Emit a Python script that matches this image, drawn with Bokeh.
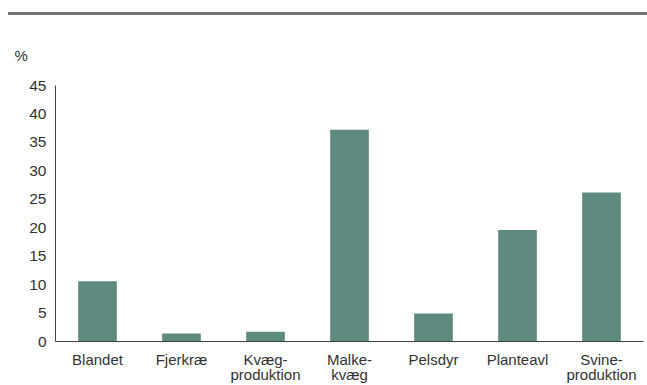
from bokeh.plotting import figure
from bokeh.models import ColumnDataSource, Div, FactorRange
from bokeh.layouts import column
from bokeh.embed import file_html
from bokeh.resources import INLINE

categories = ["Blandet", "Fjerkræ", "Kvæg-\nproduktion", "Malke-\nkvæg", "Pelsdyr", "Planteavl", "Svine-\nproduktion"]
values = [10.6, 1.4, 1.7, 37.2, 4.9, 19.6, 26.2]
y_ticks = [0, 5, 10, 15, 20, 25, 30, 35, 40, 45]

FONT = "Liberation Sans"
TXT = "#333333"
BAR = "#5f8a7f"

src = ColumnDataSource(dict(cat=categories, val=values))

p = figure(
    x_range=FactorRange(*categories, range_padding=0),
    y_range=(0, 45),
    width=647, height=368,
    output_backend="svg", toolbar_location=None,
    min_border_left=55, min_border_right=4, min_border_top=68, min_border_bottom=43,
)
p.vbar(x="cat", top="val", width=0.46, source=src, color=BAR, line_color=None)

p.xgrid.visible = False
p.ygrid.visible = False
p.outline_line_color = None

p.yaxis.ticker = y_ticks
p.yaxis.major_tick_line_color = None
p.yaxis.minor_tick_line_color = None
p.yaxis.major_tick_out = 0
p.yaxis.major_label_standoff = 9
p.yaxis.axis_line_color = "#444444"
p.yaxis.major_label_text_font = FONT
p.yaxis.major_label_text_font_size = "15.5px"
p.yaxis.major_label_text_color = TXT

p.xaxis.major_tick_line_color = None
p.xaxis.major_tick_out = 0
p.xaxis.major_label_standoff = 9
p.xaxis.axis_line_color = "#444444"
p.xaxis.major_label_text_font = FONT
p.xaxis.major_label_text_font_size = "15px"
p.xaxis.major_label_text_color = TXT
p.xaxis.major_label_text_line_height = 0.9

p.title.text = "%"
p.title.align = "left"
p.title.offset = -41
p.title.standoff = 43
p.title.text_font = FONT
p.title.text_font_size = "15px"
p.title.text_font_style = "normal"
p.title.text_color = TXT

top_line = Div(text="", width=639, height=3, margin=(12, 0, 2, 8),
               styles={"background-color": "#747474"})

layout = column(top_line, p, spacing=0)
open("out.html", "w").write(file_html(layout, INLINE))
